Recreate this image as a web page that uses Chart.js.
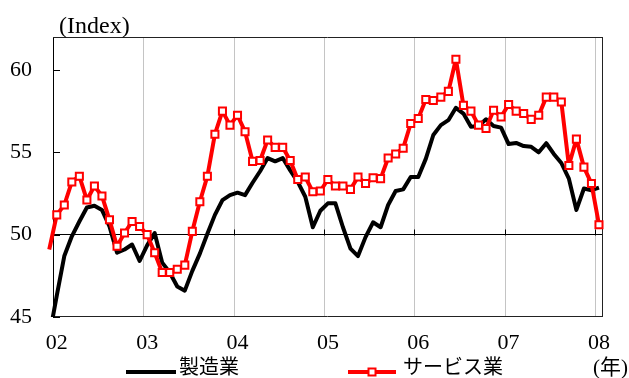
<!DOCTYPE html>
<html>
<head>
<meta charset="utf-8">
<script src="https://cdn.jsdelivr.net/npm/chart.js@4.4.1/dist/chart.umd.min.js"></script>
<style>
  html, body { margin: 0; padding: 0; background: #fff; }
  #wrap { width: 629px; height: 378px; }
</style>
</head>
<body>
<div id="wrap"><canvas id="c" width="629" height="378"></canvas></div>
<script>
// Monthly observations, Dec 2001 through Jan 2008
const months = [
  '2001-12',
  '2002-01','2002-02','2002-03','2002-04','2002-05','2002-06','2002-07','2002-08','2002-09','2002-10','2002-11','2002-12',
  '2003-01','2003-02','2003-03','2003-04','2003-05','2003-06','2003-07','2003-08','2003-09','2003-10','2003-11','2003-12',
  '2004-01','2004-02','2004-03','2004-04','2004-05','2004-06','2004-07','2004-08','2004-09','2004-10','2004-11','2004-12',
  '2005-01','2005-02','2005-03','2005-04','2005-05','2005-06','2005-07','2005-08','2005-09','2005-10','2005-11','2005-12',
  '2006-01','2006-02','2006-03','2006-04','2006-05','2006-06','2006-07','2006-08','2006-09','2006-10','2006-11','2006-12',
  '2007-01','2007-02','2007-03','2007-04','2007-05','2007-06','2007-07','2007-08','2007-09','2007-10','2007-11','2007-12',
  '2008-01'
];

// 製造業
const manufacturing = [
  43.8,
  46.3, 48.7, 49.9, 50.8, 51.65, 51.75, 51.5, 50.5, 48.9, 49.1, 49.4, 48.4,
  49.35, 50.1, 48.3, 47.7, 46.85, 46.6, 47.8, 48.85, 50.05, 51.2, 52.1, 52.4,
  52.55, 52.4, 53.15, 53.85, 54.65, 54.45, 54.65, 53.9, 53.2, 52.3, 50.45, 51.45,
  51.9, 51.9, 50.45, 49.15, 48.7, 49.85, 50.75, 50.45, 51.8, 52.65, 52.75, 53.5,
  53.5, 54.6, 56.05, 56.65, 56.95, 57.7, 57.35, 56.55, 56.6, 57.0, 56.6, 56.5,
  55.5, 55.57, 55.38, 55.33, 55.0, 55.55, 54.9, 54.35, 53.4, 51.5, 52.8, 52.7,
  52.85
];

// サービス業
const services = [
  49.1,
  51.2, 51.8, 53.2, 53.55, 52.1, 52.95, 52.35, 50.9, 49.3, 50.1, 50.8, 50.5,
  50.0, 48.9, 47.7, 47.7, 47.9, 48.15, 50.2, 52.0, 53.55, 56.1, 57.5, 56.65,
  57.25, 56.25, 54.45, 54.5, 55.75, 55.3, 55.3, 54.5, 53.35, 53.5, 52.6, 52.65,
  53.35, 52.95, 52.95, 52.75, 53.5, 53.1, 53.45, 53.4, 54.65, 54.9, 55.25, 56.75,
  57.05, 58.2, 58.15, 58.35, 58.7, 60.65, 57.85, 57.5, 56.65, 56.45, 57.55, 57.15,
  57.9, 57.5, 57.35, 57.0, 57.25, 58.35, 58.35, 58.05, 54.2, 55.8, 54.1, 53.1,
  50.6
];

const yearLabels = ['02', '03', '04', '05', '06', '07', '08'];
const yTicks = [45, 50, 55, 60];
const baseYear = 2002;

const FONT = "'Liberation Serif', 'Noto Sans CJK JP', serif";

// month string -> months since Jan of the base year
function monthPos(m) {
  const [yy, mm] = m.split('-').map(Number);
  return (yy - baseYear) * 12 + (mm - 1);
}
const toPoints = vals => vals.map((v, i) => ({ x: monthPos(months[i]), y: v }));

function seg(ctx, x1, y1, x2, y2) {
  ctx.beginPath(); ctx.moveTo(x1, y1); ctx.lineTo(x2, y2); ctx.stroke();
}

const frame = {
  id: 'frame',
  beforeDraw(chart) {
    const { ctx, chartArea: a, scales: { x } } = chart;
    ctx.save();
    ctx.strokeStyle = '#c4c4c4';
    ctx.lineWidth = 1;
    // year boundaries sit half a month before each January
    for (let i = 1; i < yearLabels.length; i++) {
      const px = Math.round(x.getPixelForValue(i * 12 - 0.5)) + 0.5;
      seg(ctx, px, a.top, px, a.bottom);
    }
    ctx.restore();
  },
  beforeDatasetsDraw(chart) {
    const { ctx, chartArea: a, scales: { x, y } } = chart;
    ctx.save();
    ctx.strokeStyle = '#000';
    ctx.lineWidth = 1;
    // inward ticks on the value axis
    yTicks.forEach(v => {
      const py = Math.round(y.getPixelForValue(v)) + 0.5;
      seg(ctx, a.left, py, a.left + 7, py);
    });
    // year ticks standing on the 50 line
    const y50 = Math.round(y.getPixelForValue(50)) + 0.5;
    for (let i = 1; i < yearLabels.length; i++) {
      const px = Math.round(x.getPixelForValue(i * 12 - 0.5)) + 0.5;
      seg(ctx, px, y50 - 6, px, y50);
    }
    // plot frame
    ctx.strokeStyle = '#222';
    seg(ctx, a.left, Math.round(a.top) + 0.5, a.right, Math.round(a.top) + 0.5);
    seg(ctx, Math.round(a.right) + 0.5, a.top, Math.round(a.right) + 0.5, a.bottom);
    seg(ctx, a.left, Math.round(a.bottom) - 0.5, a.right, Math.round(a.bottom) - 0.5);
    ctx.restore();
  },
  afterDraw(chart) {
    const { ctx } = chart;
    const [mfg, svc] = chart.data.datasets;
    ctx.save();
    ctx.fillStyle = '#000';
    ctx.textAlign = 'left';

    ctx.textBaseline = 'alphabetic';
    ctx.font = '24px ' + FONT;
    ctx.fillText('(Index)', 59, 33);

    ctx.textBaseline = 'middle';
    ctx.font = '21px ' + FONT;
    ctx.fillText('(年)', 593, 368);

    // legend: 製造業
    ctx.font = '20px ' + FONT;
    ctx.lineCap = 'butt';
    ctx.strokeStyle = mfg.borderColor;
    ctx.lineWidth = mfg.borderWidth;
    seg(ctx, 126, 372, 176, 372);
    ctx.fillText(mfg.label, 179, 369);

    // legend: サービス業
    ctx.strokeStyle = svc.borderColor;
    ctx.lineWidth = svc.borderWidth;
    seg(ctx, 348, 372, 396, 372);
    ctx.fillStyle = svc.pointBackgroundColor;
    ctx.strokeStyle = svc.pointBorderColor;
    ctx.lineWidth = svc.pointBorderWidth;
    ctx.fillRect(372 - 3.5, 372 - 3.5, 7, 7);
    ctx.strokeRect(372 - 3.5, 372 - 3.5, 7, 7);
    ctx.fillStyle = '#000';
    ctx.fillText(svc.label, 403, 369);
    ctx.restore();
  }
};

new Chart(document.getElementById('c'), {
  type: 'line',
  data: {
    datasets: [
      {
        label: '製造業',
        data: toPoints(manufacturing),
        borderColor: '#000000',
        borderWidth: 4,
        pointRadius: 0,
        tension: 0,
        borderJoinStyle: 'round',
        clip: { left: 4, top: 0, right: 2, bottom: 0 },
        order: 1
      },
      {
        label: 'サービス業',
        data: toPoints(services),
        borderColor: '#ff0000',
        borderWidth: 4,
        tension: 0,
        borderJoinStyle: 'round',
        pointStyle: 'rect',
        pointRadius: c => (c.dataIndex === 0 ? 0 : 5),
        pointBackgroundColor: '#ffffff',
        pointBorderColor: '#ff0000',
        pointBorderWidth: 2,
        clip: { left: false, top: 0, right: false, bottom: 0 },
        order: 0
      }
    ]
  },
  options: {
    responsive: false,
    animation: false,
    devicePixelRatio: 1,
    layout: { padding: { top: 37, right: 27, left: 0, bottom: 0 } },
    plugins: { legend: { display: false }, tooltip: { enabled: false } },
    scales: {
      x: {
        type: 'linear',
        min: -0.5,
        max: 72.4,
        grid: { display: false, drawTicks: false },
        border: { display: false },
        afterBuildTicks: s => { s.ticks = yearLabels.map((_, i) => ({ value: i * 12 })); },
        afterFit: s => { s.height = 61; },
        ticks: {
          autoSkip: false,
          maxRotation: 0,
          padding: 13,
          color: '#000',
          font: { family: FONT, size: 22 },
          callback: v => yearLabels[Math.round(v / 12)]
        }
      },
      y: {
        min: 45,
        max: 62,
        afterBuildTicks: s => { s.ticks = yTicks.map(v => ({ value: v })); },
        afterFit: s => { s.width = 53; },
        grid: {
          drawTicks: false,
          lineWidth: 1,
          color: c => (c.tick && c.tick.value === 50 ? '#000000' : 'rgba(0,0,0,0)')
        },
        border: { display: true, color: '#000', width: 1 },
        ticks: {
          padding: 21,
          color: '#000',
          font: { family: FONT, size: 22 }
        }
      }
    }
  },
  plugins: [frame]
});
</script>
</body>
</html>
